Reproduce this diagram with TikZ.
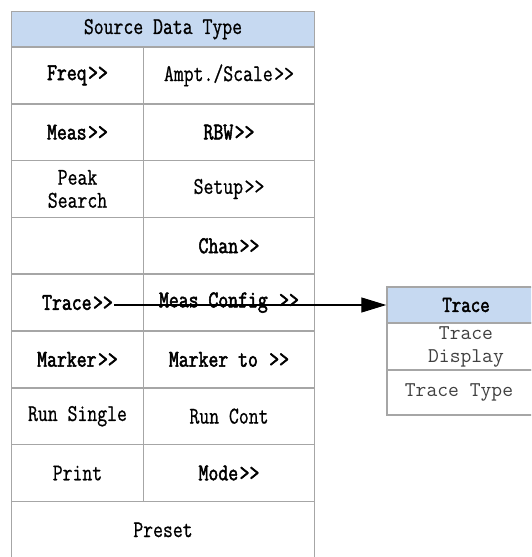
\documentclass[tikz,border=0pt]{standalone}
\usepackage{fontspec}
\newfontfamily\cellfont[FakeStretch=0.8, UprightFeatures={FakeBold=0.8}, BoldFont=Latin Modern Mono, BoldFeatures={FakeBold=2.2}]{Latin Modern Mono}
\newfontfamily\subfont{Latin Modern Mono}
\usetikzlibrary{arrows.meta}
\definecolor{gridgray}{HTML}{A6A6A6}
\definecolor{headblue}{HTML}{C6D9F1}
\definecolor{subtext}{HTML}{404040}
\newcommand\arr{\kern1.5pt>>}
\tikzset{
  cellbase/.style={draw=gridgray, line width=1.5pt, inner sep=0pt, align=center,
    minimum height=56.8pt, text=black,
    font=\cellfont\fontsize{24}{23}\selectfont},
  cellL/.style={cellbase, minimum width=132pt},
  cellR/.style={cellbase, minimum width=171pt},
  cellW/.style={cellbase, minimum width=303pt},
  boldtxt/.style={font=\cellfont\bfseries\fontsize{24}{23}\selectfont},
  headcell/.style={cellbase, fill=headblue, minimum width=303pt, minimum height=35.5pt},
  tracehead/.style={cellbase, fill=headblue, minimum width=158pt, minimum height=36pt,
    font=\cellfont\bfseries\fontsize{23}{22}\selectfont},
  tracecell/.style={cellbase, minimum width=158pt, text=subtext,
    font=\subfont\fontsize{21}{23}\selectfont},
  plaintxt/.style={inner sep=1pt, font=\cellfont\bfseries\fontsize{24}{23}\selectfont},
  link/.style={line width=1.3pt, -{Triangle[length=25pt,width=15pt]}}
}
\begin{document}
\begin{tikzpicture}[x=1pt,y=-1pt]
\clip (0,0) rectangle (531,557);
% header
\node[headcell] (hdr) at (163,29.25) {Source Data Type};
% row centres: 47 + 56.8*(i-0.5)
\node[cellL,boldtxt] (r1l) at (77.5,75.4) {Freq\arr};
\node[cellR] (r1r) at (229,75.4) {Ampt./Scale\arr};
\node[cellL,boldtxt] (r2l) at (77.5,132.2) {Meas\arr};
\node[cellR,boldtxt] (r2r) at (229,132.2) {RBW\arr};
\node[cellL] (r3l) at (77.5,189.0) {Peak\\Search};
\node[cellR] (r3r) at (229,189.0) {Setup\arr};
\node[cellL] (r4l) at (77.5,245.8) {};
\node[cellR,boldtxt] (r4r) at (229,245.8) {Chan\arr};
\node[cellL] (r5l) at (77.5,302.6) {};
\node[cellR,boldtxt] (r5r) at (229,302.6) {Meas Config \arr};
\node[cellL,boldtxt] (r6l) at (77.5,359.4) {Marker\arr};
\node[cellR,boldtxt] (r6r) at (229,359.4) {Marker to \arr};
\node[cellL] (r7l) at (77.5,416.2) {Run Single};
\node[cellR] (r7r) at (229,416.2) {Run Cont};
\node[cellL] (r8l) at (77.5,473.0) {Print};
\node[cellR,boldtxt] (r8r) at (229,473.0) {Mode\arr};
\node[cellW] (r9) at (163,529.8) {Preset};
% trace text in row 5
\node[plaintxt] (trtxt) at (r5l.center) {Trace\arr};
% trace panel
\node[tracehead] (th) at (466,305) {Trace};
\node[tracecell] (td) at (466,346.5) [minimum height=47pt] {Trace\\Display};
\node[tracecell] (tt) at (466,392.5) [minimum height=45pt] {Trace Type\hspace*{14pt}};
% connector
\draw[link] (trtxt.east |- th.west) -- (th.west);
\end{tikzpicture}
\end{document}
